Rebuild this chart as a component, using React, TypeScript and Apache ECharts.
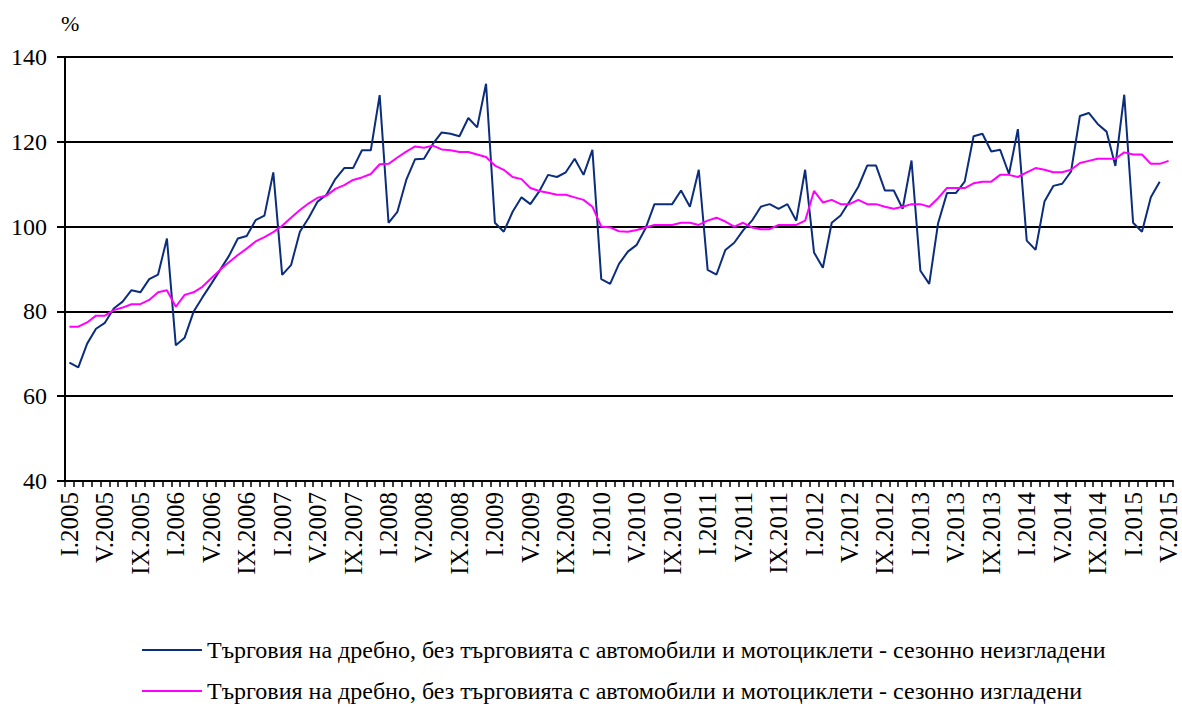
import React, { useEffect, useRef } from "react";
import * as echarts from "echarts";

const monthNames = ["I", "II", "III", "IV", "V", "VI", "VII", "VIII", "IX", "X", "XI", "XII"];
const years = [2005, 2006, 2007, 2008, 2009, 2010, 2011, 2012, 2013, 2014, 2015];
const lastMonthOf2015 = 5;

const categories: string[] = [];
years.forEach((y) => {
  const n = y === 2015 ? lastMonthOf2015 : 12;
  for (let m = 0; m < n; m++) categories.push(monthNames[m] + "." + y);
});

const yTicks = { min: 40, max: 140, interval: 20 };

const seriesNames = [
  "Търговия на дребно, без търговията с автомобили и мотоциклети - сезонно неизгладени",
  "Търговия на дребно, без търговията с автомобили и мотоциклети - сезонно изгладени",
];

const unadjusted: (number | null)[] = [
  67.9, 66.8, 72.4, 75.9, 77.3, 80.7, 82.3, 85.0, 84.5, 87.6, 88.7, 97.2,
  72.0, 73.8, 79.9, 83.3, 86.5, 89.8, 93.1, 97.2, 97.8, 101.5, 102.6, 112.8,
  88.6, 90.9, 98.8, 102.1, 105.9, 107.5, 111.2, 113.8, 113.8, 118.0, 118.0, 131.0,
  100.9, 103.5, 111.0, 115.9, 116.0, 119.5, 122.2, 121.9, 121.3, 125.6, 123.4, 133.7,
  100.9, 98.8, 103.5, 106.9, 105.3, 108.3, 112.2, 111.7, 112.8, 116.0, 112.2, 118.1,
  87.6, 86.5, 91.2, 94.1, 95.7, 99.6, 105.3, 105.3, 105.3, 108.5, 104.7, 113.4,
  89.8, 88.7, 94.5, 96.2, 99.1, 101.4, 104.7, 105.3, 104.2, 105.3, 101.4, 113.4,
  93.9, 90.3, 100.9, 102.6, 105.9, 109.4, 114.4, 114.4, 108.5, 108.5, 104.2, 115.6,
  89.6, 86.5, 100.8, 107.9, 107.9, 110.6, 121.3, 121.9, 117.7, 118.1, 112.4, 123.0,
  96.7, 94.5, 105.9, 109.6, 110.1, 113.0, 126.1, 126.8, 124.2, 122.4, 114.3, 131.1,
  100.9, 98.8, 106.9, 110.6, null,
];

const adjusted: number[] = [
  76.4, 76.4, 77.4, 79.0, 79.0, 80.3, 80.9, 81.7, 81.7, 82.7, 84.5, 85.0,
  81.1, 83.9, 84.5, 85.8, 87.8, 89.8, 91.6, 93.3, 94.8, 96.5, 97.5, 98.7,
  100.2, 102.1, 103.9, 105.5, 106.8, 107.3, 108.9, 109.8, 111.0, 111.6, 112.4, 114.7,
  114.8, 116.3, 117.7, 118.9, 118.6, 119.1, 118.2, 118.0, 117.6, 117.6, 117.0, 116.4,
  114.4, 113.4, 111.7, 111.2, 109.1, 108.4, 108.0, 107.5, 107.5, 106.9, 106.3, 104.7,
  100.0, 99.8, 98.9, 98.8, 99.2, 99.8, 100.4, 100.4, 100.4, 100.9, 100.9, 100.4,
  101.4, 102.1, 101.2, 100.0, 100.9, 99.8, 99.4, 99.4, 100.4, 100.4, 100.4, 101.4,
  108.4, 105.7, 106.3, 105.3, 105.3, 106.3, 105.3, 105.3, 104.7, 104.2, 104.7, 105.3,
  105.3, 104.7, 106.7, 109.1, 109.1, 109.1, 110.2, 110.6, 110.6, 112.2, 112.2, 111.7,
  112.8, 113.8, 113.4, 112.8, 112.8, 113.4, 115.0, 115.5, 116.0, 116.0, 116.0, 117.5,
  117.0, 117.0, 114.8, 114.8, 115.5,
];

const FONT = "'Liberation Serif', 'Times New Roman', serif";

const legendBase = {
  orient: "horizontal",
  left: 137,
  itemWidth: 60,
  itemHeight: 2,
  icon: "rect",
  textStyle: { fontFamily: FONT, fontSize: 24, color: "#000" },
};

export default function App() {
  const ref = useRef<HTMLDivElement>(null);
  useEffect(() => {
    const chart = echarts.init(ref.current!, null, { renderer: "svg" });
    chart.setOption({
      animation: false,
      backgroundColor: "#fff",
      grid: { left: 65, right: 9, top: 57, bottom: 227, containLabel: false },
      graphic: [
        {
          type: "text",
          left: 61,
          top: 12,
          style: { text: "%", font: `22px ${FONT}`, fill: "#000" },
        },
      ],
      legend: [
        { ...legendBase, top: 633, data: [seriesNames[0]] },
        { ...legendBase, top: 674, data: [seriesNames[1]] },
      ],
      xAxis: {
        type: "category",
        data: categories,
        boundaryGap: true,
        axisLine: { lineStyle: { color: "#000", width: 2 } },
        axisTick: { show: true, interval: 0, length: 6, lineStyle: { color: "#000", width: 1.5 } },
        axisLabel: {
          interval: 3,
          rotate: 90,
          margin: 11,
          fontFamily: FONT,
          fontSize: 25,
          color: "#000",
        },
        splitLine: { show: false },
      },
      yAxis: {
        type: "value",
        min: yTicks.min,
        max: yTicks.max,
        interval: yTicks.interval,
        axisLine: { show: true, lineStyle: { color: "#000", width: 2 } },
        axisTick: { show: true, length: 8, lineStyle: { color: "#000", width: 2 } },
        axisLabel: { margin: 18, fontFamily: FONT, fontSize: 24, color: "#000" },
        splitLine: { show: true, lineStyle: { color: "#000", width: 2 } },
      },
      series: [
        {
          name: seriesNames[0],
          type: "line",
          data: unadjusted,
          symbol: "none",
          lineStyle: { color: "#0B2D7C", width: 2 },
          itemStyle: { color: "#0B2D7C" },
        },
        {
          name: seriesNames[1],
          type: "line",
          data: adjusted,
          symbol: "none",
          lineStyle: { color: "#FF00FF", width: 2 },
          itemStyle: { color: "#FF00FF" },
        },
      ],
    });
    return () => chart.dispose();
  }, []);
  return (
    <div
      ref={ref}
      style={{ position: "fixed", left: 0, top: 0, width: 1182, height: 708 }}
    />
  );
}
